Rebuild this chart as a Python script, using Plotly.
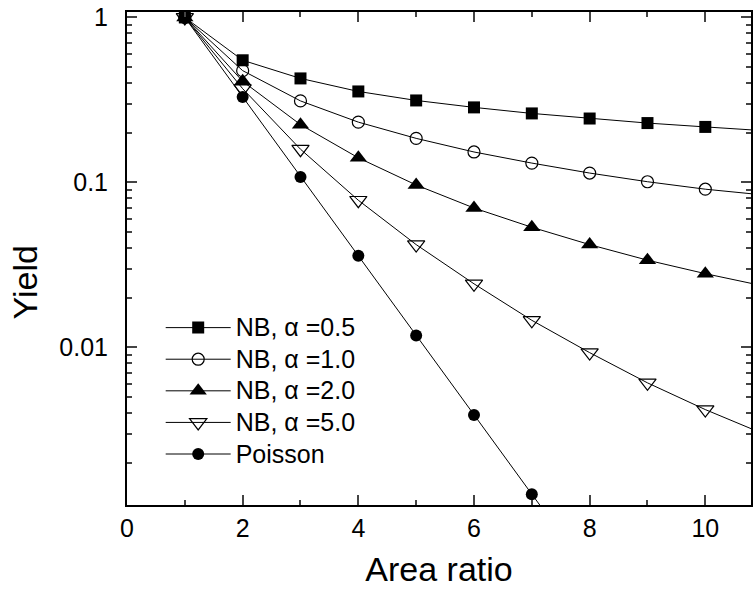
import plotly.graph_objects as go

area_ratio = [1, 2, 3, 4, 5, 6, 7, 8, 9, 10, 11]
nb_05 = [1.0, 0.55, 0.427, 0.356, 0.314, 0.285, 0.262, 0.244, 0.229, 0.217, 0.206]
nb_10 = [1.0, 0.476, 0.312, 0.232, 0.185, 0.153, 0.131, 0.114, 0.101, 0.091, 0.084]
nb_20 = [1.0, 0.41, 0.224, 0.141, 0.0965, 0.070, 0.0535, 0.042, 0.0338, 0.0280, 0.0236]
nb_50 = [1.0, 0.37, 0.159, 0.078, 0.042, 0.0243, 0.0146, 0.0093, 0.0061, 0.0042, 0.0030]
poisson_x = [1, 2, 3, 4, 5, 6, 7, 8]
poisson = [1.0, 0.33, 0.108, 0.036, 0.0118, 0.0039, 0.00129, 0.00043]

series = [
    ("NB, α =0.5", area_ratio, nb_05, dict(symbol="square", size=12, color="black")),
    ("NB, α =1.0", area_ratio, nb_10, dict(symbol="circle-open", size=12, color="black", line=dict(width=1.2))),
    ("NB, α =2.0", area_ratio, nb_20, dict(symbol="triangle-up", size=15, color="black")),
    ("NB, α =5.0", area_ratio, nb_50, dict(symbol="triangle-down-open", size=15, color="black", line=dict(width=1.2))),
    ("Poisson", poisson_x, poisson, dict(symbol="circle", size=12, color="black")),
]

fig = go.Figure()
for name, xs, ys, mk in series:
    fig.add_trace(go.Scatter(x=xs, y=ys, name='<span style="font-size:25px">' + name + '</span>',
                             mode="lines+markers",
                             line=dict(color="black", width=1), marker=mk))

font_family = "Liberation Sans, Arial, sans-serif"
fig.update_layout(
    width=753, height=592,
    margin=dict(l=127, r=0, t=12, b=87),
    paper_bgcolor="white", plot_bgcolor="white",
    font=dict(family=font_family, color="black", size=25),
    showlegend=True,
    legend=dict(x=0.054, y=0.402, xanchor="left", yanchor="top",
                bgcolor="rgba(0,0,0,0)", font=dict(size=22), itemwidth=65,
                tracegroupgap=0),
    annotations=[dict(text="Yield", xref="paper", yref="paper", x=-0.163, y=0.452,
                      textangle=-90, showarrow=False, font=dict(size=34),
                      xanchor="center", yanchor="middle")],
)
fig.update_xaxes(
    range=[0, 10.79], dtick=2, tick0=0, ticks="inside", ticklen=10, tickwidth=2,
    showline=True, linewidth=2, linecolor="black", mirror="ticks", showgrid=False,
    zeroline=False, tickfont=dict(size=25),
    minor=dict(dtick=1, ticks="inside", ticklen=5, tickwidth=2, showgrid=False),
    title=dict(text="Area ratio", font=dict(size=34), standoff=16),
)
fig.update_yaxes(
    type="log", range=[-2.955, 0.033], dtick=1, ticks="inside", ticklen=10, tickwidth=2,
    showline=True, linewidth=2, linecolor="black", mirror="ticks", showgrid=False,
    zeroline=False, tickfont=dict(size=25), ticklabelstandoff=12,
    minor=dict(dtick="D1", ticks="inside", ticklen=5, tickwidth=2, showgrid=False),
)
fig.write_html("out.html")
